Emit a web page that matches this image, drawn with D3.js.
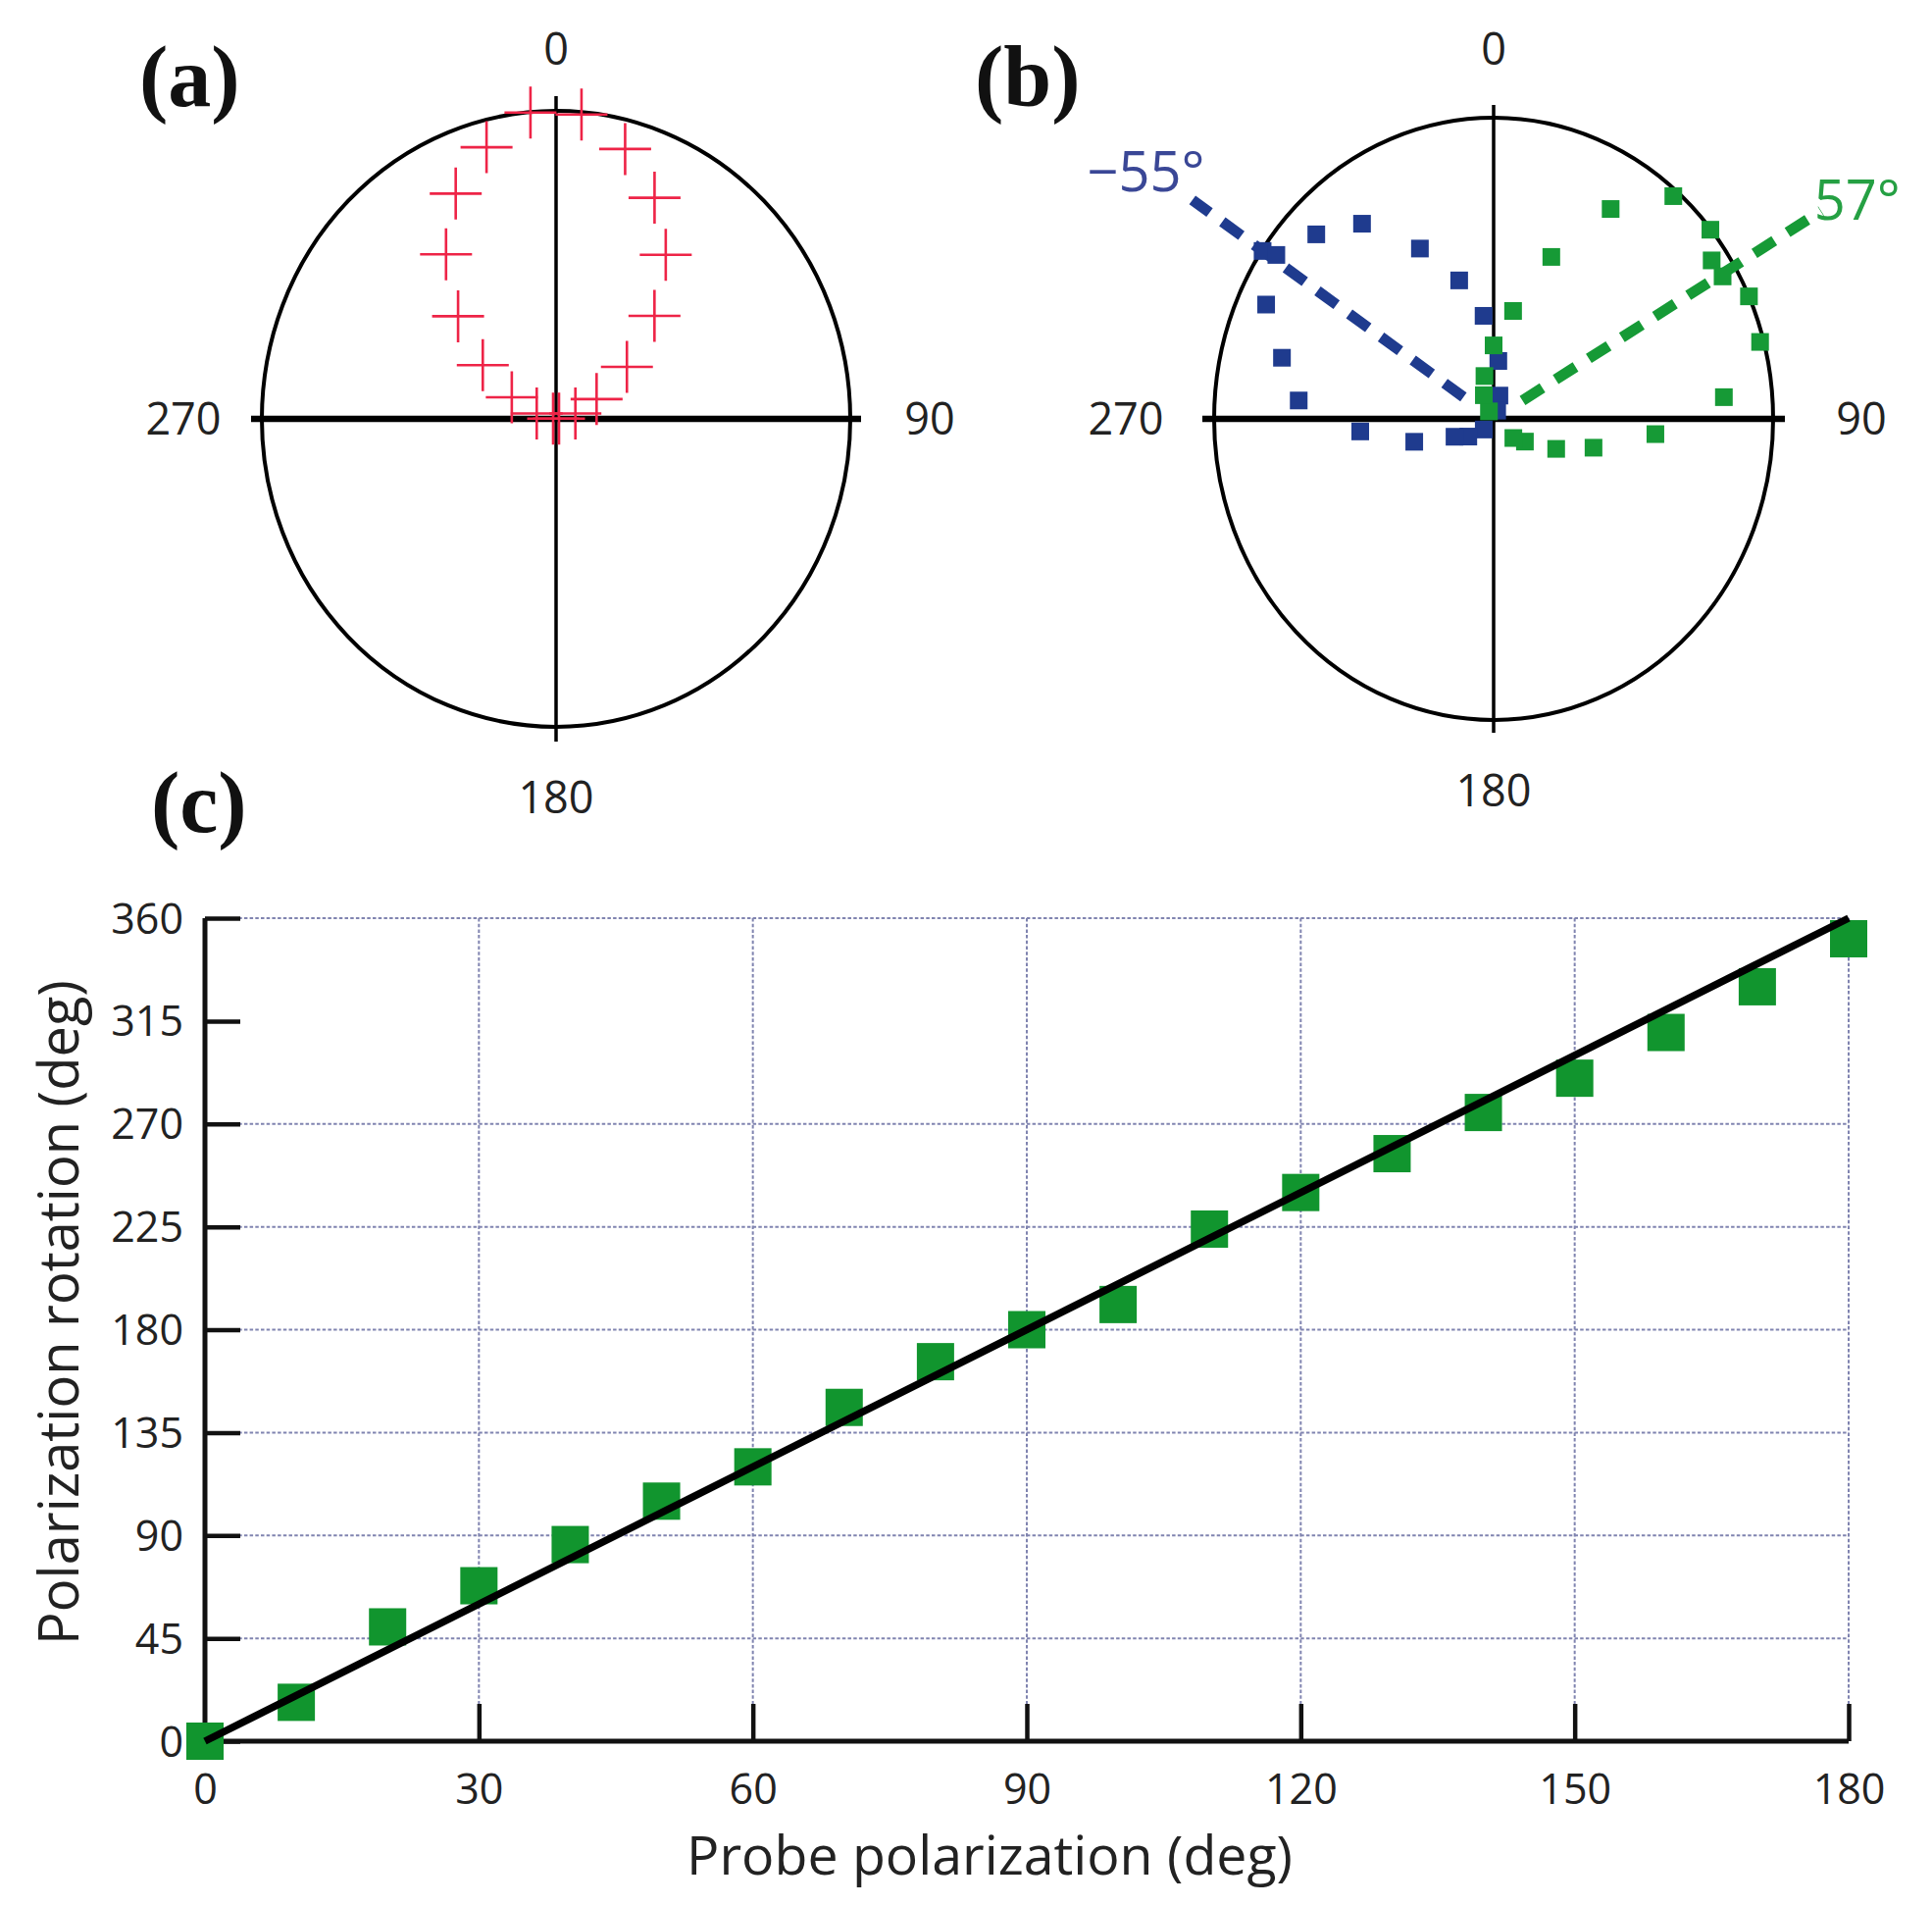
<!DOCTYPE html>
<html><head><meta charset="utf-8">
<script src="https://cdn.jsdelivr.net/npm/d3@7"></script>
<style>body{margin:0;background:#fff} svg{display:block}</style>
</head><body><svg id="chart" width="1970" height="1942"></svg>
<script>
// ---------- DATA ----------
// (a) polar crosses: angle (deg, 0 = up, clockwise) and normalized radius
const crossAngles = [-85, -75, -65, -55, -45, -35, -25, -15, -5, 5, 15, 25, 35, 45, 55, 65, 75, 85];
const crossRadii  = [0.01, 0.068, 0.166, 0.304, 0.471, 0.652, 0.807, 0.913, 0.998, 0.992, 0.907, 0.792, 0.650, 0.473, 0.294, 0.152, 0.068, 0.01];
// (b) blue series
const blueAngles = [-135, -123, -113, -105, -95, -85, -75, -65, -56, -55, -46, -36, -25, -15, -6, 5, 15, 25];
const blueRadii  = [0.05, 0.108, 0.152, 0.294, 0.479, 0.70, 0.784, 0.898, 0.997, 0.949, 0.882, 0.801, 0.624, 0.476, 0.344, 0.193, 0.08, 0.03];
// (b) green series
const greenAngles = [-34, -24, -13, 0, 11, 21, 31, 41, 51, 56, 60, 66, 75, 85, 95, 105, 114, 124, 132];
const greenRadii  = [0.03, 0.086, 0.146, 0.244, 0.365, 0.576, 0.813, 0.98, 0.998, 0.941, 0.946, 1.0, 0.987, 0.827, 0.581, 0.37, 0.245, 0.135, 0.095];
// (b) guide lines
const guideAngles = [-56, 59.5];
const guideLabels = ["\u221255\u00b0", "57\u00b0"];
// polar direction labels
const polarLabels = ["0", "90", "180", "270"];
// (c) rotation vs probe polarization
const probe    = [0, 10, 20, 30, 40, 50, 60, 70, 80, 90, 100, 110, 120, 130, 140, 150, 160, 170, 180];
const rotation = [0, 17, 50, 68, 86, 105, 120, 146, 166, 180, 191, 224, 240, 257, 275, 290, 310, 330, 351];
const fitX = [0, 180];
const fitY = [0, 360];
const xTicks = [0, 30, 60, 90, 120, 150, 180];
const yTicks = [0, 45, 90, 135, 180, 225, 270, 315, 360];
const yGrid  = [45, 90, 135, 180, 225, 270, 360];
const xGrid  = [30, 60, 90, 120, 150, 180];

// ---------- STYLE / LAYOUT ----------
const svg = d3.select("#chart");
const SANS = "'Open Sans', 'Noto Sans', sans-serif";
const SERIF = "'Liberation Serif', 'Times New Roman', serif";
const RED = "#ee2447", BLUE = "#1f3b8e", BLUE_T = "#3a4796", GREEN = "#169a36", GREEN_T = "#25a043";

svg.append("rect").attr("width", 1970).attr("height", 1942).attr("fill", "#fff");

function panelLetter(txt, x, y) {
  svg.append("text").attr("x", x).attr("y", y).text(txt)
    .attr("font-family", SERIF).attr("font-weight", "bold").attr("font-size", 88).attr("fill", "#111");
}
panelLetter("(a)", 142, 108);
panelLetter("(b)", 994, 108);
panelLetter("(c)", 154, 848);

function polarPanel(p) {
  const sx = d3.scaleLinear().domain([0, 1]).range([0, p.rx]);
  const sy = d3.scaleLinear().domain([0, 1]).range([0, p.ry]);
  const pt = (deg, r) => {
    const [ux, uy] = d3.pointRadial(deg * Math.PI / 180, r);
    return [p.cx + sx(ux), p.cy + sy(uy)];
  };
  const g = svg.append("g");
  g.append("ellipse").attr("cx", p.cx).attr("cy", p.cy).attr("rx", sx(1)).attr("ry", sy(1))
    .attr("fill", "none").attr("stroke", "#000").attr("stroke-width", 4);
  g.append("line").attr("x1", p.cx).attr("x2", p.cx)
    .attr("y1", p.cy - sy(1) - p.ext).attr("y2", p.cy + sy(1) + p.ext)
    .attr("stroke", "#000").attr("stroke-width", 3.5);
  g.append("line").attr("y1", p.cy).attr("y2", p.cy)
    .attr("x1", p.cx - sx(1) - p.extH).attr("x2", p.cx + sx(1) + p.extH)
    .attr("stroke", "#000").attr("stroke-width", 6.5);
  const lab = (t, x, y) => g.append("text").attr("x", x).attr("y", y).text(t)
    .attr("font-family", SANS).attr("font-size", 45).attr("fill", "#222").attr("text-anchor", "middle");
  lab(polarLabels[0], p.cx, p.cy - sy(1) - p.lt);
  lab(polarLabels[1], p.cx + sx(1) + p.lr, p.cy + 16);
  lab(polarLabels[2], p.cx, p.cy + sy(1) + 88);
  lab(polarLabels[3], p.cx - sx(1) - p.ll, p.cy + 16);
  return {g, pt};
}

// (a)
const A = polarPanel({cx: 567, cy: 427, rx: 300, ry: 314, ext: 15, extH: 11, lt: 47, lr: 81, ll: 80});
A.g.selectAll("path.cross").data(crossAngles.map((a, i) => A.pt(a, crossRadii[i])))
  .enter().append("path").attr("class", "cross")
  .attr("d", d => `M${d[0] - 26.5},${d[1]}H${d[0] + 26.5}M${d[0]},${d[1] - 26.5}V${d[1] + 26.5}`)
  .attr("stroke", RED).attr("stroke-width", 2.6).attr("fill", "none");

// (b)
const B = polarPanel({cx: 1523, cy: 427, rx: 285, ry: 307, ext: 13, extH: 12, lt: 54, lr: 90, ll: 90});
const guideColors = [BLUE, GREEN], guideTextColors = [BLUE_T, GREEN_T];
const guideR = [[0.13, 1.30], [0.12, 1.36]];
const labelAngles = [-56.6, 60.8];
guideAngles.forEach((a, i) => {
  const p0 = B.pt(a, guideR[i][0]), p1 = B.pt(a, guideR[i][1]);
  B.g.append("line").attr("x1", p0[0]).attr("y1", p0[1]).attr("x2", p1[0]).attr("y2", p1[1])
    .attr("stroke", guideColors[i]).attr("stroke-width", 11).attr("stroke-dasharray", "24,16");
  const lp = B.pt(labelAngles[i], 1.49);
  B.g.append("text").attr("x", lp[0]).attr("y", lp[1]).attr("dy", "0.36em").text(guideLabels[i])
    .attr("font-family", SANS).attr("font-size", 56).attr("fill", guideTextColors[i]).attr("text-anchor", "middle");
});
const SQ = 18;
B.g.selectAll("rect.blue").data(blueAngles.map((a, i) => B.pt(a, blueRadii[i])))
  .enter().append("rect").attr("class", "blue")
  .attr("x", d => d[0] - SQ / 2).attr("y", d => d[1] - SQ / 2).attr("width", SQ).attr("height", SQ)
  .attr("fill", BLUE);
B.g.selectAll("rect.green").data(greenAngles.map((a, i) => B.pt(a, greenRadii[i])))
  .enter().append("rect").attr("class", "green")
  .attr("x", d => d[0] - SQ / 2).attr("y", d => d[1] - SQ / 2).attr("width", SQ).attr("height", SQ)
  .attr("fill", GREEN);

// (c)
const x = d3.scaleLinear().domain([0, 180]).range([209, 1885]);
const y = d3.scaleLinear().domain([0, 360]).range([1775, 936]);
const C = svg.append("g");
const gridStyle = s => s.attr("stroke", "#8084b0").attr("stroke-width", 2).attr("stroke-dasharray", "3.5,2.2");
C.selectAll("line.hg").data(yGrid).enter().append("line")
  .attr("x1", x(0)).attr("x2", x(180)).attr("y1", d => y(d)).attr("y2", d => y(d)).call(gridStyle);
C.selectAll("line.vg").data(xGrid).enter().append("line")
  .attr("x1", d => x(d)).attr("x2", d => x(d)).attr("y1", y(360)).attr("y2", y(0)).call(gridStyle);

const yAxis = d3.axisLeft(y).tickValues(yTicks).tickSize(-36).tickPadding(0).tickFormat(d3.format("d"));
const yG = C.append("g").attr("transform", `translate(${x(0)},0)`).call(yAxis);
const xAxis = d3.axisBottom(x).tickValues(xTicks).tickSize(-38).tickPadding(0).tickFormat(d3.format("d"));
const xG = C.append("g").attr("transform", `translate(0,${y(0)})`).call(xAxis);
[yG, xG].forEach(g => {
  g.select(".domain").attr("stroke", "#111").attr("stroke-width", 5);
  g.selectAll(".tick line").attr("stroke", "#111").attr("stroke-width", 4.5);
  g.selectAll(".tick text").attr("font-family", SANS).attr("font-size", 43).attr("fill", "#222");
});
yG.select(".domain").attr("d", `M0,${y(0)}V${y(360)}`);
xG.select(".domain").attr("d", `M${x(0)},0H${x(180)}`);
yG.selectAll(".tick text").attr("x", -22).attr("dy", "0.35em");
xG.selectAll(".tick text").attr("y", 33).attr("dy", "0.71em");
xG.selectAll(".tick").filter(d => d === 0).select("line").remove();

const S = 38;
C.selectAll("rect.pt").data(probe).enter().append("rect")
  .attr("x", (d) => x(d) - S / 2).attr("y", (d, i) => y(rotation[i]) - S / 2)
  .attr("width", S).attr("height", S).attr("fill", "#11952e");
C.append("path").datum(fitX.map((d, i) => [d, fitY[i]]))
  .attr("d", d3.line().x(d => x(d[0])).y(d => y(d[1])))
  .attr("stroke", "#000").attr("stroke-width", 7.5).attr("fill", "none");

function fitText(sel, target) {
  const len = sel.node().getComputedTextLength();
  const fs = parseFloat(sel.attr("font-size"));
  sel.attr("font-size", fs * target / len);
}
const xt = C.append("text").attr("x", 1009).attr("y", 1911).attr("text-anchor", "middle")
  .attr("font-family", SANS).attr("font-size", 55).attr("fill", "#222").text("Probe polarization (deg)");
fitText(xt, 618);
const yt = C.append("text").attr("transform", "translate(80,1338) rotate(-90)").attr("text-anchor", "middle")
  .attr("font-family", SANS).attr("font-size", 56).attr("fill", "#222").text("Polarization rotation (deg)");
fitText(yt, 678);
</script></body></html>
